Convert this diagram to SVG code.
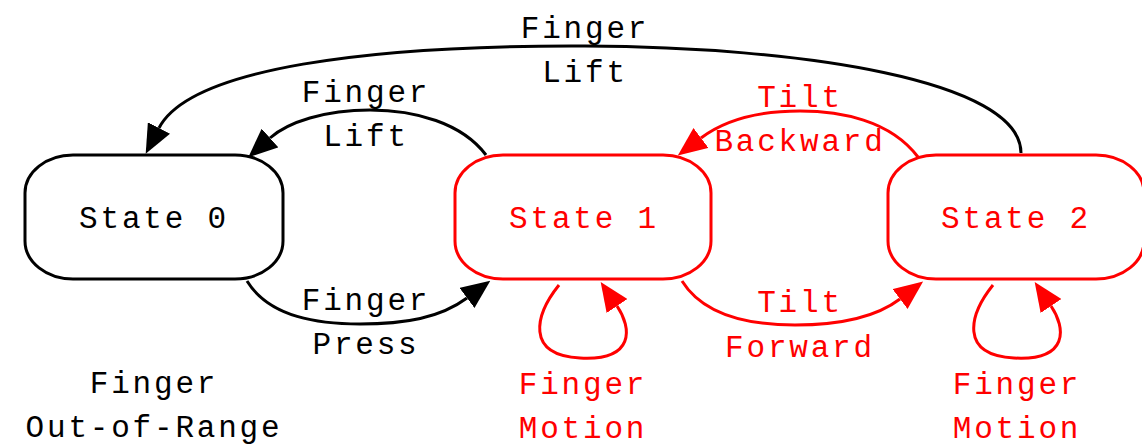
<svg xmlns="http://www.w3.org/2000/svg" width="1142" height="446" viewBox="0 0 1142 446">
  <style>
    text { font-family: "Liberation Mono", "Courier New", monospace; font-size: 31px; letter-spacing: 2.8px; text-anchor: middle; }
    .blk { fill: #000; }
    .red { fill: #ff0000; }
    .node-blk { fill: #fff; stroke: #000; stroke-width: 3; }
    .node-red { fill: #fff; stroke: #ff0000; stroke-width: 3; }
    .edge-blk { fill: none; stroke: #000; stroke-width: 3; marker-end: url(#arrow-blk); }
    .edge-red { fill: none; stroke: #ff0000; stroke-width: 3; marker-end: url(#arrow-red); }
  </style>
  <defs>
    <marker id="arrow-blk" markerUnits="userSpaceOnUse" viewBox="0 0 29 25" refX="0" refY="12.5" markerWidth="29" markerHeight="25" orient="auto">
      <path d="M0,0 L29,12.5 L0,25 z" fill="#000"/>
    </marker>
    <marker id="arrow-red" markerUnits="userSpaceOnUse" viewBox="0 0 29 25" refX="0" refY="12.5" markerWidth="29" markerHeight="25" orient="auto">
      <path d="M0,0 L29,12.5 L0,25 z" fill="#ff0000"/>
    </marker>
  </defs>
  <rect width="1142" height="446" fill="#fff"/>

  <!-- connectors -->
  <g id="edges">
    <!-- State 2 -> State 0 : Finger Lift -->
    <path class="edge-blk" d="M1021,153 C1021,80 800,47 585,46 C370,45 190,68 159,128"/>
    <!-- State 1 -> State 0 : Finger Lift -->
    <path class="edge-blk" d="M486,155 C462,123 415,110 370,110 C325,110 288,122 270,138"/>
    <!-- State 0 -> State 1 : Finger Press -->
    <path class="edge-blk" d="M247,281 C270,318 320,324 360,324 C405,324 440,318 467,298"/>
    <!-- State 1 -> State 2 : Tilt Forward -->
    <path class="edge-red" d="M682,281 C705,318 755,325 795,325 C840,325 875,318 900,299"/>
    <!-- State 2 -> State 1 : Tilt Backward -->
    <path class="edge-red" d="M918,157 C890,120 840,111 800,111 C760,111 725,120 701,138"/>
    <!-- State 1 self loop : Finger Motion -->
    <path class="edge-red" d="M559,285 C535,315 525,355 580,358 C635,361 632,328 617,306"/>
    <!-- State 2 self loop : Finger Motion -->
    <path class="edge-red" d="M993,285 C969,315 959,355 1014,358 C1069,361 1066,328 1051,306"/>
  </g>

  <!-- edge labels -->
  <g id="edge-labels">
    <text class="blk" x="585" y="38">Finger</text>
    <text class="blk" x="585" y="82">Lift</text>
    <text class="blk" x="366" y="102">Finger</text>
    <text class="blk" x="366" y="146">Lift</text>
    <text class="blk" x="366" y="310">Finger</text>
    <text class="blk" x="366" y="354">Press</text>
    <text class="red" x="800" y="107">Tilt</text>
    <text class="red" x="800" y="151">Backward</text>
    <text class="red" x="800" y="312">Tilt</text>
    <text class="red" x="800" y="357">Forward</text>
    <text class="red" x="583" y="394">Finger</text>
    <text class="red" x="583" y="438">Motion</text>
    <text class="red" x="1017" y="394">Finger</text>
    <text class="red" x="1017" y="438">Motion</text>
  </g>

  <g id="state0">
    <rect class="node-blk" x="25" y="155" width="258" height="124" rx="48" ry="38"/>
    <text class="blk" x="154" y="228">State 0</text>
    <text class="blk" x="154" y="393">Finger</text>
    <text class="blk" x="154" y="437">Out-of-Range</text>
  </g>
  <g id="state1">
    <rect class="node-red" x="455" y="155" width="256" height="124" rx="48" ry="38"/>
    <text class="red" x="584" y="228">State 1</text>
  </g>
  <g id="state2">
    <rect class="node-red" x="888" y="155" width="256" height="124" rx="48" ry="38"/>
    <text class="red" x="1016" y="228">State 2</text>
  </g>
</svg>
